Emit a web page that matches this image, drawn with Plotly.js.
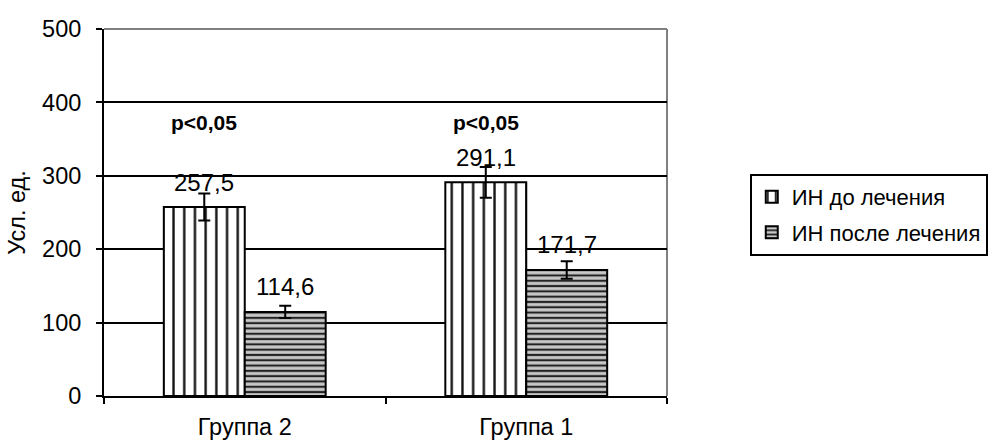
<!DOCTYPE html>
<html>
<head>
<meta charset="utf-8">
<script src="https://cdn.plot.ly/plotly-3.0.1.min.js"></script>
<style>
  html, body { margin: 0; padding: 0; background: #fff; }
  #chart { width: 997px; height: 441px; }
</style>
</head>
<body>
<div id="chart"></div>
<script>
const categories = ['Группа 2', 'Группа 1'];
const seriesNames = ['ИН до лечения', 'ИН после лечения'];
const beforeValues = [257.5, 291.1];
const afterValues = [114.6, 171.7];
const beforeErrors = [18.5, 21];
const afterErrors = [8.5, 12];
const pLabels = ['p<0,05', 'p<0,05'];
const pLabelLevel = 372;
const yTickValues = [0, 100, 200, 300, 400, 500];

const FONT = 'Liberation Sans, Arial, sans-serif';
const FS = 23.5;
const fmt = v => v.toFixed(1).replace('.', ',');

const errStyle = { type: 'data', visible: true, color: '#000', thickness: 2, width: 6 };

const traceBefore = {
  type: 'bar', name: seriesNames[0], x: categories, y: beforeValues,
  legendgroup: 'a',
  marker: {
    color: '#fff',
    line: { color: '#000', width: 2 },
    pattern: { shape: '|', fgcolor: '#111', bgcolor: '#fff', size: 10.7, solidity: 0.22 }
  },
  error_y: Object.assign({ array: beforeErrors }, errStyle),
  hoverinfo: 'skip'
};
const traceAfter = {
  type: 'bar', name: seriesNames[1], x: categories, y: afterValues,
  legendgroup: 'b',
  marker: {
    color: '#fff',
    line: { color: '#000', width: 2 },
    pattern: { shape: '-', fgcolor: '#222', bgcolor: '#c8c8c8', size: 5.3, solidity: 0.4 }
  },
  error_y: Object.assign({ array: afterErrors }, errStyle),
  hoverinfo: 'skip'
};

const barShift = 40.5;
const annotations = [];
categories.forEach((c, i) => {
  annotations.push({ x: c, y: beforeValues[i], xref: 'x', yref: 'y', text: fmt(beforeValues[i]),
    showarrow: false, xshift: -barShift, yshift: 25, yanchor: 'middle',
    font: { family: FONT, size: 24, color: '#000' } });
  annotations.push({ x: c, y: afterValues[i], xref: 'x', yref: 'y', text: fmt(afterValues[i]),
    showarrow: false, xshift: barShift, yshift: 25, yanchor: 'middle',
    font: { family: FONT, size: 24, color: '#000' } });
  annotations.push({ x: c, y: pLabelLevel, xref: 'x', yref: 'y', text: '<b>' + pLabels[i].replace('<', '&lt;') + '</b>',
    showarrow: false, xshift: -barShift, yanchor: 'middle',
    font: { family: FONT, size: 21, color: '#000' } });
});

const layout = {
  width: 997, height: 441,
  margin: { l: 104, r: 330, t: 29, b: 45, autoexpand: false },
  paper_bgcolor: '#fff', plot_bgcolor: '#fff',
  font: { family: FONT, size: FS, color: '#000' },
  separators: ', ',
  barmode: 'group', bargap: 0.425, bargroupgap: 0,
  showlegend: true,
  legend: {
    x: 1.147, y: 0.605, xanchor: 'left', yanchor: 'top',
    bordercolor: '#000', borderwidth: 2, bgcolor: '#fff',
    font: { family: FONT, size: 22, color: '#000' },
    traceorder: 'grouped', tracegroupgap: 4
  },
  xaxis: {
    type: 'category', tickson: 'boundaries', ticks: 'outside', ticklen: 6, tickwidth: 2, tickcolor: '#000',
    showline: true, linecolor: '#000', linewidth: 2, showgrid: false, zeroline: false,
    tickfont: { family: FONT, size: FS, color: '#000' }, ticklabelstandoff: 9, fixedrange: true
  },
  yaxis: {
    range: [0, 500], tickvals: yTickValues, ticks: 'outside', ticklen: 6, tickwidth: 2, tickcolor: '#000',
    showline: true, linecolor: '#000', linewidth: 2,
    showgrid: true, gridcolor: '#000', gridwidth: 2, zeroline: false,
    tickfont: { family: FONT, size: FS, color: '#000' }, ticklabelstandoff: 10,
    title: { text: 'Усл. ед.', font: { family: FONT, size: FS, color: '#000' }, standoff: 10 },
    fixedrange: true
  },
  annotations: annotations,
  shapes: [
    { type: 'line', xref: 'paper', yref: 'paper', x0: 0, x1: 1, y0: 1, y1: 1, layer: 'above',
      line: { color: '#808080', width: 2 } },
    { type: 'line', xref: 'paper', yref: 'paper', x0: 1, x1: 1, y0: 0, y1: 1, layer: 'below',
      line: { color: '#808080', width: 2 } }
  ]
};

Plotly.newPlot('chart', [traceBefore, traceAfter], layout, { displayModeBar: false, staticPlot: true });
</script>
</body>
</html>
